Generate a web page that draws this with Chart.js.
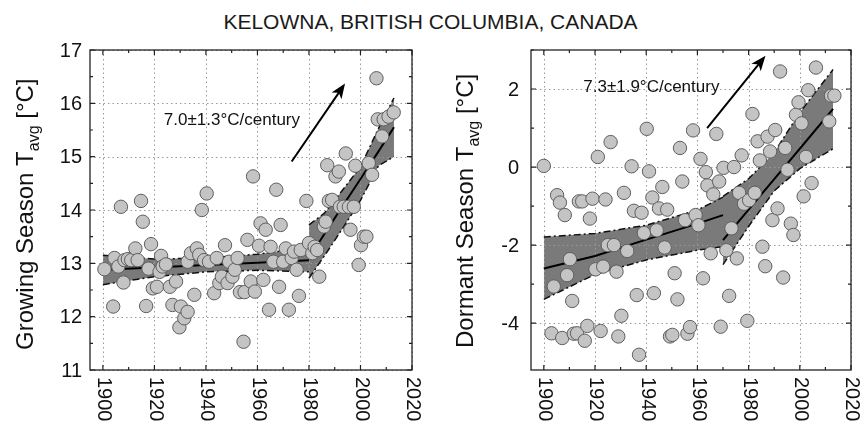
<!DOCTYPE html>
<html>
<head>
<meta charset="utf-8">
<script src="https://cdn.jsdelivr.net/npm/chart.js@4"></script>
<style>
body { margin: 0; background: #fff; width: 861px; height: 423px; overflow: hidden; position: relative; font-family: "Liberation Sans", Arial, sans-serif; }
#title { position: absolute; left: 0; top: 9px; width: 861px; text-align: center; font-size: 21px; line-height: 26px; color: #1a1a1a; }
#left { position: absolute; left: 0; top: 0; }
#right { position: absolute; left: 440px; top: 0; }
</style>
</head>
<body>
<div id="title">KELOWNA, BRITISH COLUMBIA, CANADA</div>
<canvas id="left" width="440" height="423"></canvas>
<canvas id="right" width="421" height="423"></canvas>
<script>
// tick labels
const xTicks = [1900, 1920, 1940, 1960, 1980, 2000, 2020];
const growTicks = [11, 12, 13, 14, 15, 16, 17];
const dormTicks = [-4, -2, 0, 2];

// growing season points
const growYears = [1900.6,1904,1904.5,1906,1907,1908,1908.4,1909.7,1911,1912.6,
  1913.5,1914.8,1915.5,1916.8,1917.7,1918.7,1919.4,1921,1922,1922.6,
  1923.2,1924.5,1926,1927,1928.4,1929.7,1930.3,1931.6,1932.9,1932.9,
  1934.2,1935.5,1936.5,1937.4,1938.4,1939.3,1940.3,1941.2,1943.2,1944.2,
  1945.2,1946.2,1947.4,1948.4,1949,1950.3,1951.2,1952.3,1953.2,1954.6,
  1955,1956.1,1957.4,1958.3,1959,1960.6,1961.2,1962.3,1963.2,1964.5,
  1965.1,1966.2,1967.3,1968.4,1969,1970,1971,1972.2,1973.3,1974.2,
  1975.2,1976.1,1976.8,1979,1980,1981.3,1982.2,1983.2,1984,1985.8,
  1986.5,1987.1,1987.7,1989,1990.3,1991.6,1992,1993.5,1994.3,1995.5,
  1996.1,1997.4,1998,1999.3,2000.2,2001.3,2002.3,2003.2,2004.5,2006.2,
  2006.7,2008.4,2009,2010.9,2012.9];
const growTemps = [12.89,12.19,13.10,12.94,14.06,12.64,13.06,13.08,13.06,13.28,
  13.06,14.17,13.78,12.20,12.90,13.36,12.53,12.56,12.84,13.14,
  12.94,12.98,12.56,12.22,12.66,11.80,12.19,11.97,12.09,13.03,
  13.19,12.41,13.28,13.16,14.00,13.06,14.31,13.03,12.44,13.10,
  12.63,12.75,13.34,12.63,13.03,12.75,12.88,13.10,12.46,11.53,
  12.46,13.44,12.66,14.63,12.47,13.33,13.75,12.69,13.63,12.13,
  13.31,13.03,14.38,12.56,13.72,13.03,13.28,12.13,13.10,13.22,
  12.88,12.39,13.25,14.17,13.38,13.19,13.31,13.25,12.75,13.69,
  13.78,14.84,14.17,14.19,14.63,14.72,14.06,14.06,15.06,14.06,
  13.63,14.06,14.83,12.97,13.34,13.50,13.50,14.88,14.66,16.47,
  15.70,15.38,15.70,15.75,15.83];

// growing season fit, two pieces
const growFit1Years = [1900, 1920, 1940, 1960, 1980];
const growFit1Upper = [13.15, 13.08, 13.10, 13.17, 13.30];
const growFit1Mid = [12.88, 12.92, 12.97, 13.01, 13.06];
const growFit1Lower = [12.60, 12.75, 12.84, 12.87, 12.84];
const growFit2Years = [1980, 1986, 1993, 2000, 2007, 2013];
const growFit2Upper = [13.72, 13.94, 14.37, 14.81, 15.53, 16.10];
const growFit2Mid = [13.10, 13.55, 14.07, 14.58, 15.10, 15.55];
const growFit2Lower = [12.72, 13.14, 13.65, 14.18, 14.83, 15.00];

// dormant season points
const dormYears = [1900,1905.2,1906.3,1908.2,1910.2,1909.1,1903.9,1911.1,1903,1907.2,
  1911.7,1913,1913.7,1915,1916,1917,1918,1919,1920.2,1921.1,
  1922.2,1923.2,1924.1,1925,1926.1,1927.4,1928.4,1929.1,1930.3,1931.3,
  1932.6,1934.3,1935.2,1936.3,1937.2,1938.2,1939.1,1940.2,1941.1,1942.4,
  1943,1944.1,1945,1946.3,1947.2,1948.2,1949.3,1950.2,1951.1,1952.2,
  1953.2,1954.1,1955.2,1956.1,1957.1,1958.3,1959.3,1960.4,1961.2,1962.2,
  1963.3,1963.9,1965.2,1966.2,1967.4,1968.5,1969.1,1970.2,1971.3,1972.4,
  1973.3,1974.3,1975.4,1976.3,1977.3,1978.2,1979.5,1980.2,1981.5,1982.4,
  1983.5,1984.4,1985.4,1986.5,1987.4,1988.4,1989.3,1990.4,1991.3,1992.3,
  1993.5,1994.3,1995.2,1996.5,1997.5,1998.5,1999.5,2000.7,2001.5,2002.4,
  2003.3,2004.6,2006.3,2011.5,2012.2,2013.5];
const dormTemps = [0.03,-0.72,-0.91,-1.23,-2.36,-2.77,-3.06,-3.43,-4.26,-4.38,
  -4.27,-4.26,-0.88,-0.88,-4.45,-4.07,-1.32,-0.81,-2.62,0.26,
  -4.20,-2.55,-0.83,-2.00,0.64,-2.00,-2.68,-4.34,-3.81,-0.66,
  -2.15,0.02,-1.12,-3.28,-4.81,-1.17,-1.69,0.98,-0.11,-0.78,
  -3.23,-1.62,-1.06,-0.51,-2.06,-1.09,-4.34,-4.30,-2.72,-3.39,
  0.49,-0.37,-1.36,-4.27,-4.10,0.94,-1.23,-1.49,0.21,-2.85,
  -0.13,-0.47,-2.21,-0.70,0.85,-0.37,-4.09,-0.02,-2.13,-3.30,
  -1.57,0.00,-2.34,-0.66,0.30,-0.94,-3.94,-0.85,1.36,-0.66,
  0.66,0.17,-2.04,-2.54,0.78,0.40,-1.36,0.95,-1.06,2.45,
  -2.83,0.49,-0.07,-1.45,-1.74,1.34,1.66,1.12,-0.75,0.26,
  1.97,-0.41,2.55,1.17,1.83,1.83];

// dormant season fit, two pieces
const dormFit1Years = [1900, 1920, 1940, 1960, 1970];
const dormFit1Upper = [-1.79, -1.70, -1.49, -1.10, -0.77];
const dormFit1Mid = [-2.60, -2.28, -1.86, -1.45, -1.23];
const dormFit1Lower = [-3.39, -2.75, -2.38, -2.13, -2.04];
const dormFit2Years = [1970, 1980, 1990, 2000, 2013];
const dormFit2Upper = [-0.75, -0.30, 0.37, 1.40, 2.50];
const dormFit2Mid = [-1.87, -1.09, -0.31, 0.47, 1.49];
const dormFit2Lower = [-2.50, -1.52, -0.61, -0.04, 0.47];

const FONT = '"Liberation Sans", Arial, sans-serif';

function pts(xs, ys) {
  return xs.map((x, i) => ({ x: x, y: ys[i] }));
}

function bandSets(years, upper, mid, lower) {
  const dashDot = [7, 3, 2, 3];
  return [
    { data: pts(years, upper), borderColor: '#111', borderWidth: 1.5, borderDash: dashDot,
      backgroundColor: '#7a7a7a', fill: '+1', pointRadius: 0, order: 2 },
    { data: pts(years, lower), borderColor: '#111', borderWidth: 1.5, borderDash: dashDot,
      fill: false, pointRadius: 0, order: 2 },
    { data: pts(years, mid), borderColor: '#000', borderWidth: 2,
      fill: false, pointRadius: 0, order: 1 }
  ];
}

// frame, grid, inward ticks, labels, arrow and note
const framePlugin = {
  id: 'framePlugin',
  beforeDatasetsDraw(chart, args, o) {
    const ctx = chart.ctx, a = chart.chartArea;
    const xs = chart.scales.x, ys = chart.scales.y;
    ctx.save();
    ctx.strokeStyle = '#999';
    ctx.lineWidth = 1;
    ctx.setLineDash([1.5, 3]);
    xTicks.forEach(t => {
      const px = Math.round(xs.getPixelForValue(t)) + 0.5;
      ctx.beginPath(); ctx.moveTo(px, a.top); ctx.lineTo(px, a.bottom); ctx.stroke();
    });
    o.yTicks.forEach(t => {
      const py = Math.round(ys.getPixelForValue(t)) + 0.5;
      ctx.beginPath(); ctx.moveTo(a.left, py); ctx.lineTo(a.right, py); ctx.stroke();
    });
    ctx.restore();
  },
  afterDatasetsDraw(chart, args, o) {
    const ctx = chart.ctx, a = chart.chartArea;
    const xs = chart.scales.x, ys = chart.scales.y;
    ctx.save();
    ctx.strokeStyle = '#222';
    ctx.lineWidth = 1.3;
    ctx.strokeRect(a.left, a.top, a.right - a.left, a.bottom - a.top);

    // inward ticks on all four sides
    const xMinor = xTicks.slice(0, -1).map((t, i) => (t + xTicks[i + 1]) / 2);
    const yMinor = o.yTicks.slice(0, -1).map((t, i) => (t + o.yTicks[i + 1]) / 2);
    if (o.yTopMinor !== undefined) yMinor.push(o.yTopMinor);
    ctx.lineWidth = 1.2;
    const xt = (t, len) => {
      const px = xs.getPixelForValue(t);
      ctx.beginPath();
      ctx.moveTo(px, a.bottom); ctx.lineTo(px, a.bottom - len);
      ctx.moveTo(px, a.top); ctx.lineTo(px, a.top + len);
      ctx.stroke();
    };
    const yt = (t, len) => {
      const py = ys.getPixelForValue(t);
      ctx.beginPath();
      ctx.moveTo(a.left, py); ctx.lineTo(a.left + len, py);
      ctx.moveTo(a.right, py); ctx.lineTo(a.right - len, py);
      ctx.stroke();
    };
    xTicks.forEach(t => xt(t, 5));
    xMinor.forEach(t => xt(t, 3));
    o.yTicks.forEach(t => yt(t, 5));
    yMinor.forEach(t => yt(t, 3));

    // tick labels
    ctx.fillStyle = '#111';
    ctx.font = '20px ' + FONT;
    ctx.textAlign = 'right';
    ctx.textBaseline = 'middle';
    o.yTicks.forEach(t => {
      ctx.fillText(String(t), a.left - o.yGap, ys.getPixelForValue(t) + 1);
    });
    ctx.textAlign = 'left';
    xTicks.forEach(t => {
      ctx.save();
      ctx.translate(xs.getPixelForValue(t) + 1, a.bottom + 7);
      ctx.rotate(Math.PI / 2);
      ctx.fillText(String(t), 0, 0);
      ctx.restore();
    });

    // axis title with subscript
    ctx.save();
    ctx.translate(o.titleX, o.titleY);
    ctx.rotate(-Math.PI / 2);
    ctx.textBaseline = 'alphabetic';
    ctx.font = '24px ' + FONT;
    ctx.fillText(o.title[0], 0, 0);
    let w = ctx.measureText(o.title[0]).width;
    ctx.font = '16px ' + FONT;
    ctx.fillText(o.title[1], w, 6);
    w += ctx.measureText(o.title[1]).width;
    ctx.font = '24px ' + FONT;
    ctx.fillText(o.title[2], w, 0);
    ctx.restore();

    // trend arrow and rate
    const tx = xs.getPixelForValue(o.arrow[0]), ty = ys.getPixelForValue(o.arrow[1]);
    const hx = xs.getPixelForValue(o.arrow[2]), hy = ys.getPixelForValue(o.arrow[3]);
    const ang = Math.atan2(hy - ty, hx - tx);
    ctx.strokeStyle = '#000';
    ctx.lineWidth = 2;
    ctx.beginPath();
    ctx.moveTo(tx, ty);
    ctx.lineTo(hx - 10 * Math.cos(ang), hy - 10 * Math.sin(ang));
    ctx.stroke();
    ctx.fillStyle = '#000';
    ctx.beginPath();
    ctx.moveTo(hx, hy);
    ctx.lineTo(hx - 15 * Math.cos(ang) + 6 * Math.sin(ang), hy - 15 * Math.sin(ang) - 6 * Math.cos(ang));
    ctx.lineTo(hx - 11 * Math.cos(ang), hy - 11 * Math.sin(ang));
    ctx.lineTo(hx - 15 * Math.cos(ang) - 6 * Math.sin(ang), hy - 15 * Math.sin(ang) + 6 * Math.cos(ang));
    ctx.closePath();
    ctx.fill();

    ctx.fillStyle = '#111';
    ctx.font = '17px ' + FONT;
    ctx.textAlign = 'center';
    ctx.textBaseline = 'middle';
    ctx.fillText(o.note[0], xs.getPixelForValue(o.note[1]), ys.getPixelForValue(o.note[2]));
    ctx.restore();
  }
};

function makeChart(id, years, temps, fit1, fit2, yMin, yMax, pad, extra) {
  return new Chart(document.getElementById(id), {
    type: 'line',
    data: {
      datasets: [
        { data: pts(years, temps), showLine: false, pointRadius: 6.7, pointBorderWidth: 1,
          pointBackgroundColor: '#c4c4c4', pointBorderColor: '#5e5e5e', order: 0 },
        ...bandSets(...fit1),
        ...bandSets(...fit2)
      ]
    },
    options: {
      responsive: false,
      animation: false,
      layout: { padding: pad },
      elements: { line: { tension: 0 } },
      scales: {
        x: { type: 'linear', min: 1895, max: 2020, display: false },
        y: { type: 'linear', min: yMin, max: yMax, display: false }
      },
      plugins: {
        legend: { display: false },
        tooltip: { enabled: false },
        filler: { drawTime: 'beforeDatasetsDraw' },
        framePlugin: extra
      }
    },
    plugins: [framePlugin]
  });
}

makeChart('left', growYears, growTemps,
  [growFit1Years, growFit1Upper, growFit1Mid, growFit1Lower],
  [growFit2Years, growFit2Upper, growFit2Mid, growFit2Lower],
  11, 17, { left: 90, right: 28, top: 50, bottom: 53 },
  { yTicks: growTicks, yGap: 8, titleX: 33, titleY: 350,
    title: ['Growing Season T', 'avg', ' [°C]'],
    arrow: [1973.3, 14.91, 1994.0, 16.37],
    note: ['7.0±1.3°C/century', 1950.1, 15.69] });

makeChart('right', dormYears, dormTemps,
  [dormFit1Years, dormFit1Upper, dormFit1Mid, dormFit1Lower],
  [dormFit2Years, dormFit2Upper, dormFit2Mid, dormFit2Lower],
  -5.2, 3, { left: 91, right: 10, top: 50, bottom: 53 },
  { yTicks: dormTicks, yTopMinor: 3, yGap: 12, titleX: 33, titleY: 348,
    title: ['Dormant Season T', 'avg', ' [°C]'],
    arrow: [1963.8, 1.0, 1986.6, 2.85],
    note: ['7.3±1.9°C/century', 1942.0, 2.04] });
</script>
</body>
</html>
